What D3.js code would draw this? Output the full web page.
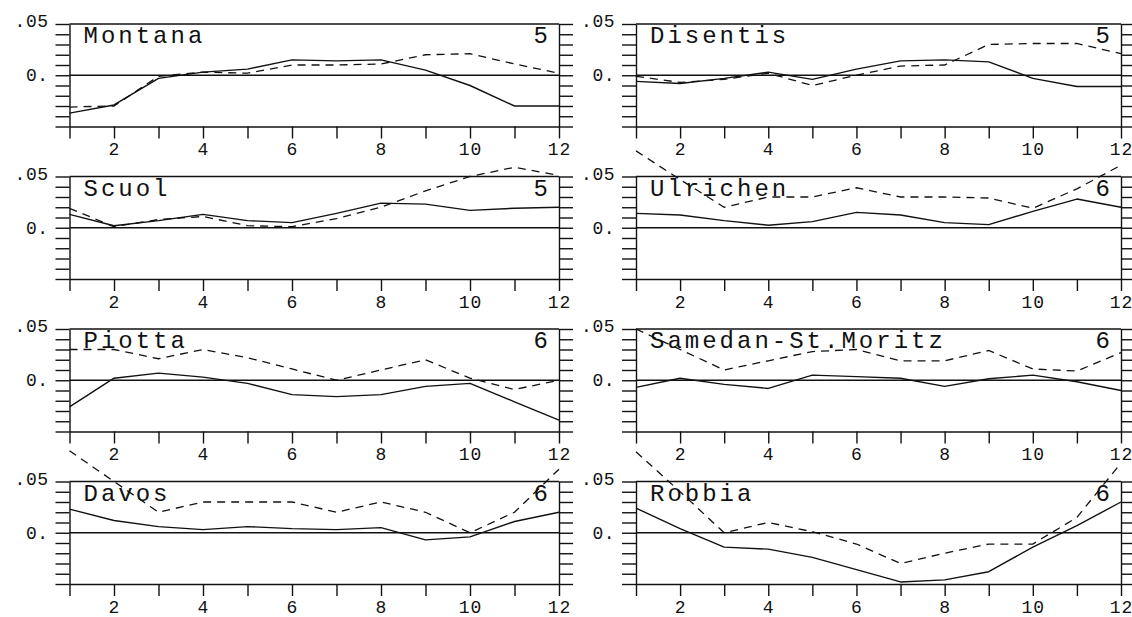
<!DOCTYPE html>
<html>
<head>
<meta charset="utf-8">
<script src="https://cdn.jsdelivr.net/npm/d3@7"></script>
<style>
  body { margin: 0; background: #fff; }
  svg { display: block; background: #fff; }
  text { font-family: "Liberation Mono", "DejaVu Sans Mono", monospace; fill: #111; }
</style>
</head>
<body>
<svg id="chart" width="1132" height="617"></svg>
<script>
// Months on the x axis, labelled every second month
const months = [1, 2, 3, 4, 5, 6, 7, 8, 9, 10, 11, 12];
const monthLabels = [2, 4, 6, 8, 10, 12];

// Minor ticks on the y axis and the two labelled values
const yTickValues = [-0.05, -0.04, -0.03, -0.02, -0.01, 0, 0.01, 0.02, 0.03, 0.04, 0.05];
const yLabelValues = [0.05, 0];
const yLabelTexts = [".05", "0."];

// Stations (row by row, left then right) and the number shown in each panel
const stations = ["Montana", "Disentis", "Scuol", "Ulrichen", "Piotta", "Samedan-St.Moritz", "Davos", "Robbia"];
const panelNumbers = [5, 5, 5, 6, 6, 6, 6, 6];

// Monthly values: solid and dashed curve per station
const montanaSolid  = [-0.037, -0.029, -0.003, 0.003, 0.006, 0.015, 0.014, 0.015, 0.005, -0.010, -0.030, -0.030];
const montanaDashed = [-0.031, -0.030, -0.001, 0.003, 0.002, 0.010, 0.010, 0.011, 0.020, 0.021, 0.011, 0.002];
const disentisSolid  = [-0.006, -0.008, -0.003, 0.003, -0.004, 0.006, 0.014, 0.015, 0.013, -0.003, -0.011, -0.011];
const disentisDashed = [-0.001, -0.007, -0.004, 0.002, -0.010, 0.000, 0.009, 0.010, 0.030, 0.031, 0.031, 0.021];
const scuolSolid  = [0.013, 0.002, 0.007, 0.013, 0.007, 0.005, 0.014, 0.024, 0.023, 0.017, 0.019, 0.020];
const scuolDashed = [0.019, 0.001, 0.008, 0.011, 0.002, 0.001, 0.009, 0.020, 0.036, 0.050, 0.059, 0.051];
const ulrichenSolid  = [0.014, 0.0125, 0.007, 0.0025, 0.006, 0.015, 0.0125, 0.005, 0.003, 0.016, 0.028, 0.020];
const ulrichenDashed = [0.075, 0.047, 0.020, 0.030, 0.030, 0.039, 0.030, 0.030, 0.029, 0.019, 0.038, 0.061];
const piottaSolid  = [-0.026, 0.002, 0.007, 0.003, -0.003, -0.014, -0.016, -0.014, -0.006, -0.003, -0.021, -0.039];
const piottaDashed = [0.030, 0.030, 0.021, 0.030, 0.022, 0.011, 0.000, 0.010, 0.020, 0.002, -0.009, 0.000];
const samedanSolid  = [-0.007, 0.002, -0.004, -0.008, 0.005, 0.0035, 0.002, -0.006, 0.0015, 0.005, -0.0015, -0.010];
const samedanDashed = [0.050, 0.030, 0.010, 0.019, 0.028, 0.030, 0.019, 0.019, 0.029, 0.011, 0.009, 0.027];
const davosSolid  = [0.023, 0.012, 0.006, 0.003, 0.006, 0.004, 0.003, 0.005, -0.007, -0.004, 0.011, 0.020];
const davosDashed = [0.080, 0.050, 0.020, 0.030, 0.030, 0.030, 0.020, 0.030, 0.020, 0.000, 0.020, 0.062];
const robbiaSolid  = [0.024, 0.004, -0.014, -0.016, -0.024, -0.036, -0.048, -0.046, -0.038, -0.014, 0.007, 0.030];
const robbiaDashed = [0.079, 0.040, 0.000, 0.010, 0.001, -0.011, -0.030, -0.020, -0.011, -0.011, 0.015, 0.068];

const solidSeries  = [montanaSolid, disentisSolid, scuolSolid, ulrichenSolid, piottaSolid, samedanSolid, davosSolid, robbiaSolid];
const dashedSeries = [montanaDashed, disentisDashed, scuolDashed, ulrichenDashed, piottaDashed, samedanDashed, davosDashed, robbiaDashed];

// Layout of the 4 x 2 grid of panels
const colX = [[69.5, 559], [636, 1121]];
const rowTop0 = 24, rowStep = 152.5, panelH = 102.5;
const ink = "#111";

const svg = d3.select("#chart");

stations.forEach((name, i) => {
  const col = i % 2, row = Math.floor(i / 2);
  const [x0, x1] = colX[col];
  const top = rowTop0 + row * rowStep, bottom = top + panelH;

  const x = d3.scaleLinear().domain([1, 12]).range([x0, x1]);
  const y = d3.scaleLinear().domain([-0.05, 0.05]).range([bottom, top]);

  const g = svg.append("g");

  // left axis with outward ticks
  g.append("g")
    .attr("transform", `translate(${x0},0)`)
    .call(d3.axisLeft(y).tickValues(yTickValues).tickSize(14).tickSizeOuter(0).tickFormat(""))
    .call(a => a.selectAll("path,line").attr("stroke", ink).attr("stroke-width", 1.4));

  // right axis with outward ticks
  g.append("g")
    .attr("transform", `translate(${x1},0)`)
    .call(d3.axisRight(y).tickValues(yTickValues).tickSize(14).tickSizeOuter(0).tickFormat(""))
    .call(a => a.selectAll("path,line").attr("stroke", ink).attr("stroke-width", 1.4));

  // bottom axis, ticks every month, labels every second month
  const xa = g.append("g")
    .attr("transform", `translate(0,${bottom})`)
    .call(d3.axisBottom(x).tickValues(months).tickSize(12).tickSizeOuter(0)
      .tickPadding(4)
      .tickFormat(d => monthLabels.includes(d) ? String(d) : ""));
  xa.selectAll("path,line").attr("stroke", ink).attr("stroke-width", 1.4);
  xa.selectAll("text").attr("font-size", 18).attr("letter-spacing", 1)
    .attr("fill", ink).attr("font-family", '"Liberation Mono", monospace');

  // top frame
  g.append("line")
    .attr("x1", x0).attr("x2", x1).attr("y1", y(0.05)).attr("y2", y(0.05))
    .attr("stroke", ink).attr("stroke-width", 1.4);

  // zero line
  g.append("line")
    .attr("x1", x0).attr("x2", x1).attr("y1", y(0)).attr("y2", y(0))
    .attr("stroke", ink).attr("stroke-width", 1.3);

  // y labels
  yLabelValues.forEach((v, k) => {
    g.append("text")
      .attr("x", x0 - 21)
      .attr("y", y(v) + (v === 0 ? 1 : -2))
      .attr("text-anchor", "end")
      .attr("dominant-baseline", "central")
      .attr("font-size", 18)
      .attr("letter-spacing", 0.5)
      .text(yLabelTexts[k]);
  });

  const line = d3.line().x((d, k) => x(months[k])).y(d => y(d));

  g.append("path")
    .datum(solidSeries[i])
    .attr("d", line)
    .attr("fill", "none")
    .attr("stroke", ink)
    .attr("stroke-width", 1.4)
    .attr("stroke-linejoin", "round");

  g.append("path")
    .datum(dashedSeries[i])
    .attr("d", line)
    .attr("fill", "none")
    .attr("stroke", ink)
    .attr("stroke-width", 1.3)
    .attr("stroke-dasharray", "8,6");

  // station name and panel number
  g.append("text")
    .attr("x", x0 + 14)
    .attr("y", top + 19)
    .attr("font-size", 24)
    .attr("letter-spacing", 3)
    .text(name);

  g.append("text")
    .attr("x", x1 - 11)
    .attr("y", top + 19)
    .attr("text-anchor", "end")
    .attr("font-size", 24)
    .text(panelNumbers[i]);
});
</script>
</body>
</html>
